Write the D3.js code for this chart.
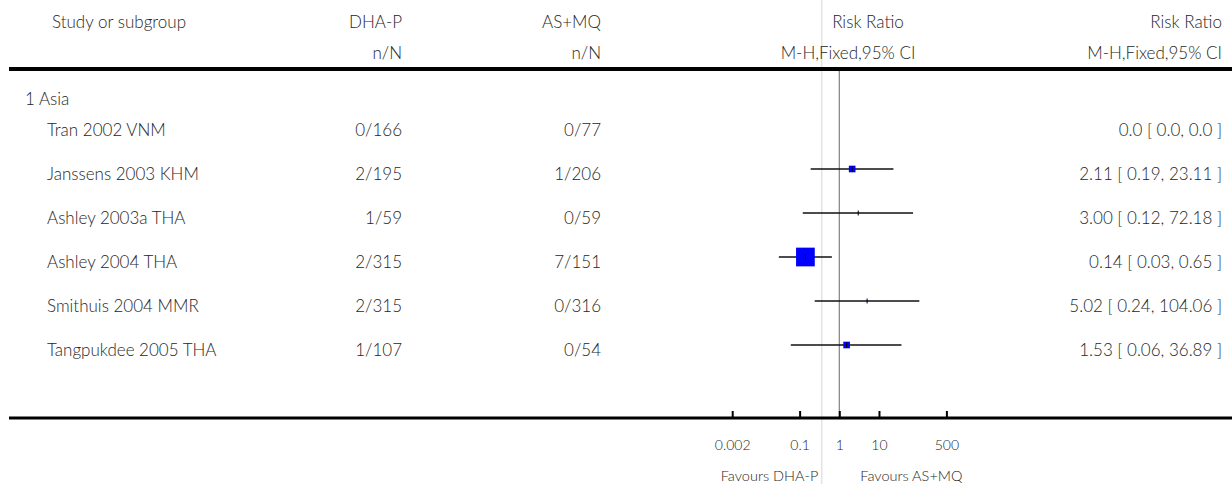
<!DOCTYPE html>
<html>
<head>
<meta charset="utf-8">
<script src="https://cdn.jsdelivr.net/npm/d3@7"></script>
<style>
  html, body { margin: 0; padding: 0; background: #fff; }
  svg { display: block; font-family: Lato, "Open Sans", sans-serif; font-weight: 300; }
</style>
</head>
<body>
<svg id="chart" width="1232" height="484"></svg>
<script>
// ---- Data: DHA-P vs AS+MQ, subgroup 1 Asia ----
const subgroup = "1 Asia";
const studies = ["Tran 2002 VNM", "Janssens 2003 KHM", "Ashley 2003a THA",
                 "Ashley 2004 THA", "Smithuis 2004 MMR", "Tangpukdee 2005 THA"];
const dhaEvents = [0, 2, 1, 2, 2, 1];
const dhaTotal = [166, 195, 59, 315, 315, 107];
const asmqEvents = [0, 1, 0, 7, 0, 0];
const asmqTotal = [77, 206, 59, 151, 316, 54];
const riskRatio = [0, 2.11, 3.00, 0.14, 5.02, 1.53];
const ciLower = [0, 0.19, 0.12, 0.03, 0.24, 0.06];
const ciUpper = [0, 23.11, 72.18, 0.65, 104.06, 36.89];
const weights = [0, 10.0, 0.3, 79.4, 0.3, 10.0];   // % weight, sets box area
const tickValues = [0.002, 0.1, 1, 10, 500];
const tickLabels = ["0.002", "0.1", "1", "10", "500"];

// ---- Layout ----
const W = 1232, H = 484;
const FS = 17;
const ink = "#262626";
const colStudy = 47, colGroup = 25, colHeadStudy = 52;
const colDha = 402, colAsmq = 601, colRight = 1222;
const ruleLeft = 9;
const topRuleY = 69, axisY = 418;
const head1 = 28, head2 = 59;
const dividerX = 821.7;

const svg = d3.select("#chart");

const x = d3.scaleLog().domain([0.002, 500]).range([732.2, 946.4]);
const y = d3.scalePoint().domain(studies).range([125, 345]);
const box = d3.scaleSqrt().domain([0, 100]).range([0, 21]);

// light column divider running the full height
svg.append("line")
  .attr("x1", dividerX).attr("x2", dividerX)
  .attr("y1", 0).attr("y2", H)
  .attr("stroke", "#e3e3e3").attr("stroke-width", 1.5);

// ---- Header ----
const text = (t, xx, yy, anchor, size) => svg.append("text")
  .attr("x", xx).attr("y", yy)
  .attr("text-anchor", anchor || "start")
  .attr("font-size", size || FS)
  .attr("fill", ink)
  .text(t);

text("Study or subgroup", colHeadStudy, head1);
text("DHA-P", colDha, head1, "end");
text("n/N", colDha, head2, "end");
text("AS+MQ", colAsmq, head1, "end");
text("n/N", colAsmq, head2, "end");
text("Risk Ratio", 868, head1, "middle");
text("M-H,Fixed,95% CI", 848, head2, "middle");
text("Risk Ratio", colRight, head1, "end");
text("M-H,Fixed,95% CI", colRight, head2, "end");

svg.append("line")
  .attr("x1", ruleLeft).attr("x2", W)
  .attr("y1", topRuleY).attr("y2", topRuleY)
  .attr("stroke", "#000").attr("stroke-width", 4);

// line of no effect
svg.append("line")
  .attr("x1", x(1)).attr("x2", x(1))
  .attr("y1", topRuleY + 2).attr("y2", axisY)
  .attr("stroke", "#808080").attr("stroke-width", 1.2);

// ---- Subgroup and study rows ----
text(subgroup, colGroup, 105);

const rows = studies.map((s, i) => ({
  study: s,
  dha: `${dhaEvents[i]}/${dhaTotal[i]}`,
  asmq: `${asmqEvents[i]}/${asmqTotal[i]}`,
  rr: riskRatio[i], lo: ciLower[i], hi: ciUpper[i], w: weights[i]
}));

const fmt = v => v === 0 ? "0.0" : v.toFixed(2);
const baseOff = 11;

const rowG = svg.append("g").selectAll("g").data(rows).join("g");
rowG.append("text").attr("x", colStudy).attr("y", d => y(d.study) + baseOff)
  .attr("font-size", FS).attr("fill", ink).text(d => d.study);
rowG.append("text").attr("x", colDha).attr("y", d => y(d.study) + baseOff)
  .attr("text-anchor", "end").attr("font-size", FS).attr("fill", ink).text(d => d.dha);
rowG.append("text").attr("x", colAsmq).attr("y", d => y(d.study) + baseOff)
  .attr("text-anchor", "end").attr("font-size", FS).attr("fill", ink).text(d => d.asmq);
rowG.append("text").attr("x", colRight).attr("y", d => y(d.study) + baseOff)
  .attr("text-anchor", "end").attr("font-size", FS).attr("fill", ink)
  .text(d => `${fmt(d.rr)} [ ${fmt(d.lo)}, ${fmt(d.hi)} ]`);

// estimable studies get a CI whisker, a weighted box and a centre tick
const est = rowG.filter(d => d.rr > 0);
est.append("line")
  .attr("x1", d => x(d.lo)).attr("x2", d => x(d.hi))
  .attr("y1", d => y(d.study)).attr("y2", d => y(d.study))
  .attr("stroke", "#111").attr("stroke-width", 1.3);
est.append("rect")
  .attr("x", d => x(d.rr) - box(d.w) / 2)
  .attr("y", d => y(d.study) - box(d.w) / 2)
  .attr("width", d => box(d.w)).attr("height", d => box(d.w))
  .attr("fill", "#0000ff");
est.append("line")
  .attr("x1", d => x(d.rr)).attr("x2", d => x(d.rr))
  .attr("y1", d => y(d.study) - 2.5).attr("y2", d => y(d.study) + 2.5)
  .attr("stroke", "#000").attr("stroke-width", 1);

// ---- Bottom axis ----
svg.append("line")
  .attr("x1", ruleLeft).attr("x2", W)
  .attr("y1", axisY).attr("y2", axisY)
  .attr("stroke", "#000").attr("stroke-width", 3);

const axis = d3.axisBottom(x)
  .tickValues(tickValues)
  .tickFormat((d, i) => tickLabels[i])
  .tickSizeInner(-7).tickSizeOuter(0);

const ax = svg.append("g").attr("transform", `translate(0,${axisY})`).call(axis);
ax.select(".domain").remove();
ax.selectAll(".tick line").attr("stroke", "#000").attr("stroke-width", 2);
ax.selectAll(".tick text")
  .attr("y", 32).attr("dy", null)
  .attr("font-family", "Lato, 'Open Sans', sans-serif")
  .attr("font-weight", 300)
  .attr("font-size", 14).attr("fill", ink);

text("Favours DHA-P", x(1) - 21, 481, "end", 14.5);
text("Favours AS+MQ", x(1) + 21, 481, "start", 14.5);
</script>
</body>
</html>
